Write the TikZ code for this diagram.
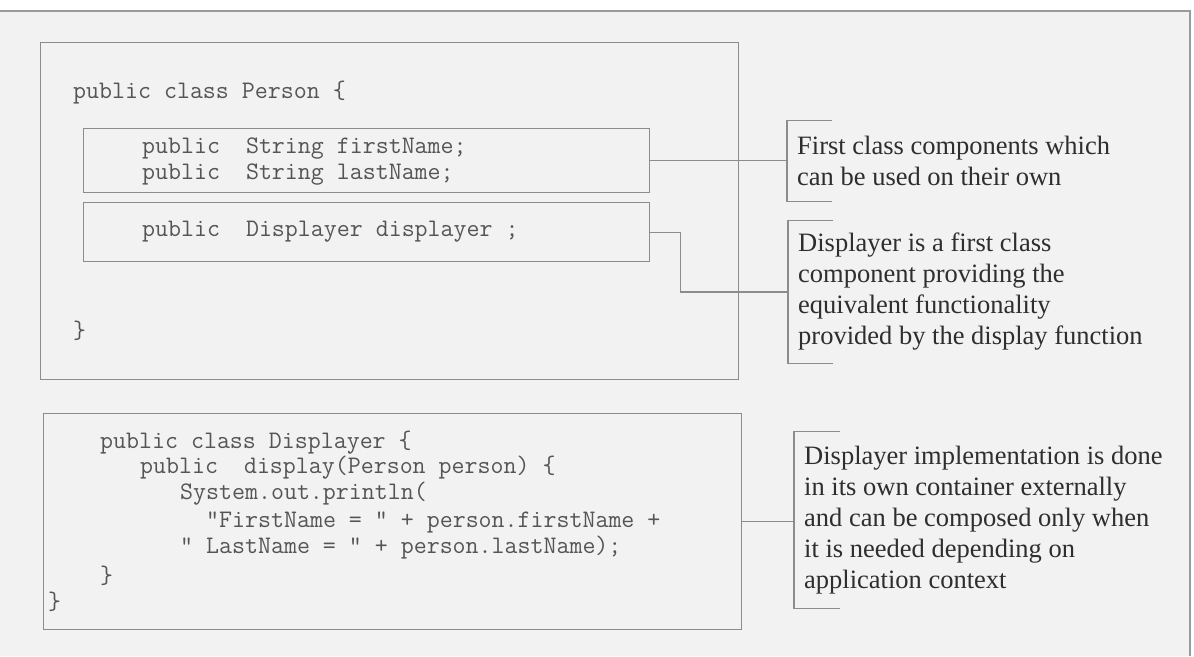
\documentclass[tikz,border=0pt]{standalone}
\usepackage{fontspec}
\setmainfont{Liberation Serif}
\definecolor{paper}{HTML}{F2F2F2}
\definecolor{boxline}{HTML}{8C8C8C}
\definecolor{codegray}{HTML}{555555}
\definecolor{notetext}{HTML}{2E2E2E}
\definecolor{frameline}{HTML}{9A9A9A}

\begin{document}
\begin{tikzpicture}[x=1pt,y=-1pt,
  codebox/.style={draw=boxline, line width=1.2pt, inner sep=0pt, anchor=north west},
  code/.style={font=\fontsize{25.2}{26.5}\ttfamily, text=codegray, anchor=west, inner sep=0pt},
  note/.style={font=\fontsize{26.5}{31}\selectfont, text=notetext, align=left,
               anchor=west, inner xsep=10pt, inner ysep=0pt},
  bracket/.style={draw=boxline, line width=1.2pt},
  link/.style={draw=boxline, line width=1.2pt}]

% page and frame
\fill[white] (0,0) rectangle (1194,656);
\fill[paper] (0,11) rectangle (1190,656);
\useasboundingbox (0,0) rectangle (1194,656);
\draw[frameline, line width=1.4pt] (0,11) -- (1190,11) -- (1190,656);

% Person class
\node[codebox, minimum width=698pt, minimum height=337pt] (person) at (40,42) {};
\node[codebox, minimum width=566pt, minimum height=64pt] (fields) at (83,128) {};
\node[codebox, minimum width=566pt, minimum height=59pt] (dispfield) at (83,202) {};

\node[code] (p1) at (73,93) {public class Person \{};
\node[code] (p2) at (142,149) {public~~String firstName;};
\node[code] (p3) at (142,175) {public~~String lastName;};
\node[code] (p4) at (142,232) {public~~Displayer displayer ;};
\node[code] (p5) at (73,331) {\}};

% Displayer class
\node[codebox, minimum width=698pt, minimum height=216pt] (disp) at (43,413) {};

\node[code] (d1) at (100,443) {public class Displayer \{};
\node[code] (d2) at (140,468) {public~~display(Person person) \{};
\node[code] (d3) at (180,494) {System.out.println(};
\node[code] (d4) at (206,522) {"FirstName = " + person.firstName +};
\node[code] (d5) at (180,548) {" LastName = " + person.lastName);};
\node[code] (d6) at (100,576) {\}};
\node[code] (d7) at (48,602) {\}};

% notes
\node[note, minimum height=80pt] (note1) at (787,161)
  {First class components which\\can be used on their own};
\node[note, minimum height=143pt] (note2) at (788,292)
  {Displayer is a first class\\component providing the\\equivalent functionality\\provided by the display function};
\node[note, minimum height=177pt] (note3) at (794,520)
  {Displayer implementation is done\\in its own container externally\\and can be composed only when\\it is needed depending on\\application context};

% brackets on the notes
\foreach \n/\t in {note1/45, note2/45, note3/46}{
  \draw[bracket] ([xshift=\t pt]\n.north west) -- (\n.north west)
                 -- (\n.south west) -- ([xshift=\t pt]\n.south west);
}

% connectors
\draw[link] (fields.east) -- (fields.east -| note1.west);
\draw[link] (dispfield.east) -- ++(30,0) |- (note2.west);
\draw[link] (disp.east) -- (disp.east -| note3.west);
\end{tikzpicture}
\end{document}
